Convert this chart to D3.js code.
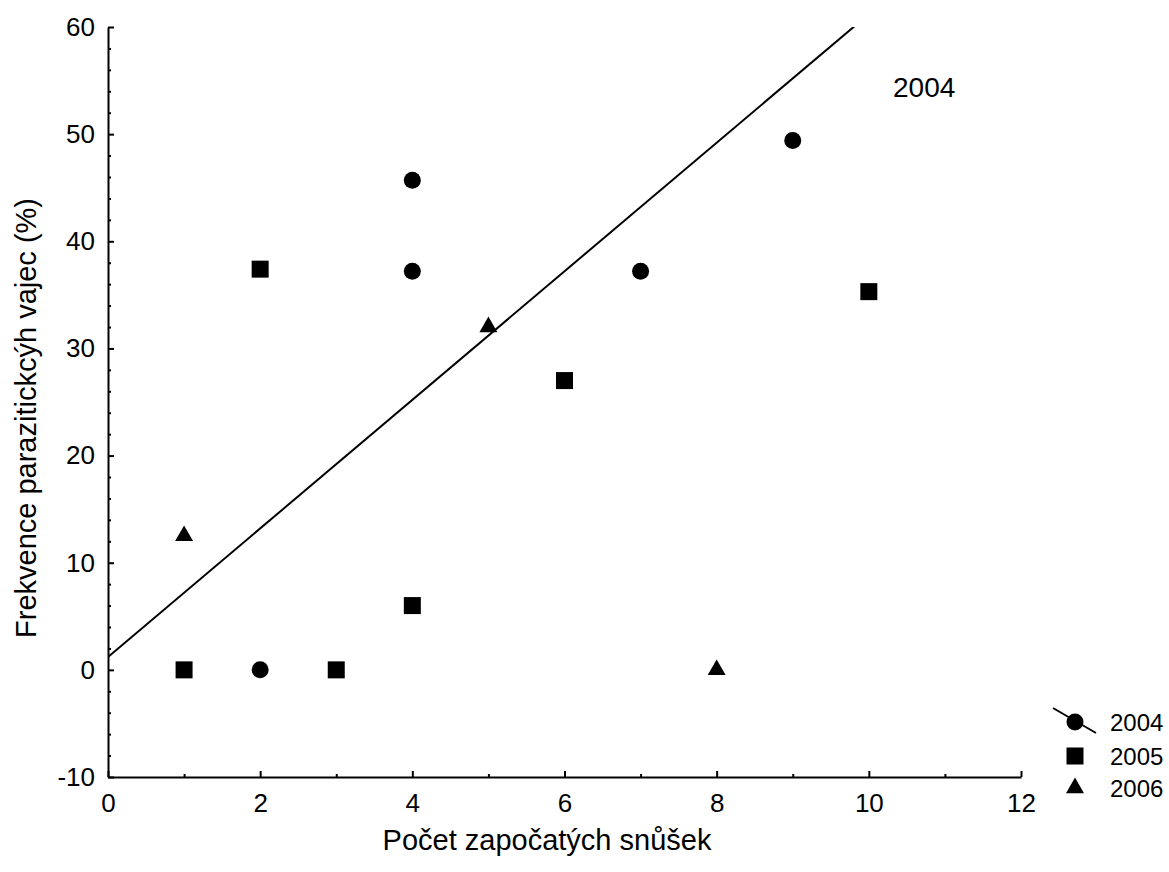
<!DOCTYPE html>
<html>
<head>
<meta charset="utf-8">
<script src="https://cdn.jsdelivr.net/npm/d3@7/dist/d3.min.js"></script>
<style>
  html, body { margin: 0; padding: 0; background: #fff; }
  svg { display: block; font-family: Arial, "Liberation Sans", sans-serif; }
  .tick text { font-size: 26px; font-family: Arial, "Liberation Sans", sans-serif; fill: #000; }
</style>
</head>
<body>
<svg id="chart" width="1169" height="872"></svg>
<script>
// Observations per year: number of started clutches vs. frequency of parasitic eggs (%)
const years = ["2004", "2005", "2006"];
const x2004 = [2, 4, 4, 7, 9];
const y2004 = [0, 45.7, 37.2, 37.2, 49.4];
const x2005 = [1, 2, 3, 4, 6, 10];
const y2005 = [0, 37.4, 0, 6.0, 27.0, 35.3];
const x2006 = [1, 5, 8];
const y2006 = [12.5, 32.0, 0];

// Fitted line (intercept, slope)
const fitIntercept = 1.2;
const fitSlope = 6.0;
const fitLabel = "2004";

const xTicks = [0, 2, 4, 6, 8, 10, 12];
const yTicks = [-10, 0, 10, 20, 30, 40, 50, 60];

const xTitle = "Počet započatých snůšek";
const yTitle = "Frekvence parazitickcýh vajec (%)";

const svg = d3.select("#chart");
const pL = 108, pR = 1021, pT = 27, pB = 777;

const x = d3.scaleLinear().domain([0, 12]).range([pL, pR]);
const y = d3.scaleLinear().domain([-10, 60]).range([pB, pT]);

svg.append("defs").append("clipPath").attr("id", "plotClip")
  .append("rect").attr("x", pL).attr("y", pT).attr("width", pR - pL).attr("height", pB - pT);

// Axes with inward ticks
function styleAxis(g) {
  g.attr("font-size", 26).attr("font-family", "Arial, 'Liberation Sans', sans-serif");
  g.select(".domain").attr("stroke", "#000").attr("stroke-width", 2);
  g.selectAll(".tick line").attr("stroke", "#000").attr("stroke-width", 2);
  g.selectAll(".tick text").style("font-size", "26px").attr("fill", "#000");
}

const xMinor = d3.range(1, 12, 2);
const yMinor = d3.range(-10, 61, 2).filter(v => v % 10 !== 0);

svg.append("g").attr("transform", `translate(0,${pB})`)
  .call(d3.axisBottom(x).tickValues(xMinor).tickSize(-3).tickFormat(""))
  .call(g => { g.select(".domain").remove(); g.selectAll(".tick line").attr("stroke", "#000").attr("stroke-width", 2); });
svg.append("g").attr("transform", `translate(${pL},0)`)
  .call(d3.axisLeft(y).tickValues(yMinor).tickSize(-3).tickFormat(""))
  .call(g => { g.select(".domain").remove(); g.selectAll(".tick line").attr("stroke", "#000").attr("stroke-width", 2); });

const plain = d => String(d);
svg.append("g").attr("transform", `translate(0,${pB})`)
  .call(d3.axisBottom(x).tickValues(xTicks).tickSize(-6).tickSizeOuter(0).tickPadding(17).tickFormat(plain))
  .call(styleAxis);
svg.append("g").attr("transform", `translate(${pL},0)`)
  .call(d3.axisLeft(y).tickValues(yTicks).tickSize(-6).tickSizeOuter(0).tickPadding(13).tickFormat(plain))
  .call(styleAxis);

// Axis titles
svg.append("text").attr("x", 547).attr("y", 850).attr("text-anchor", "middle")
  .style("font-size", "29px").text(xTitle);
svg.append("text").attr("transform", `translate(36,${418}) rotate(-90)`).attr("text-anchor", "middle")
  .style("font-size", "29px").text(yTitle);

// Regression line
const plot = svg.append("g").attr("clip-path", "url(#plotClip)");
plot.append("line")
  .attr("x1", x(0)).attr("y1", y(fitIntercept))
  .attr("x2", x(12)).attr("y2", y(fitIntercept + fitSlope * 12))
  .attr("stroke", "#000").attr("stroke-width", 2);

svg.append("text").attr("x", 893).attr("y", 97).style("font-size", "28px").text(fitLabel);

// Markers
const circleSym = d3.symbol().type(d3.symbolCircle).size(Math.PI * 8.5 * 8.5);
const squareSym = d3.symbol().type(d3.symbolSquare).size(17 * 17);
const triSym = d3.symbol().type(d3.symbolTriangle).size(140);

const series = [
  { xs: x2004, ys: y2004, sym: circleSym },
  { xs: x2005, ys: y2005, sym: squareSym },
  { xs: x2006, ys: y2006, sym: triSym }
];

series.forEach(s => {
  svg.append("g").selectAll("path")
    .data(s.xs.map((v, i) => [v, s.ys[i]]))
    .join("path")
    .attr("d", s.sym)
    .attr("transform", d => `translate(${x(d[0])},${y(d[1])})`)
    .attr("fill", "#000");
});

// Legend
const legend = svg.append("g");
const legY = [722, 756, 788];
legend.append("line").attr("x1", 1053).attr("y1", 708).attr("x2", 1096).attr("y2", 733)
  .attr("stroke", "#000").attr("stroke-width", 2);
series.forEach((s, i) => {
  legend.append("path").attr("d", s.sym).attr("transform", `translate(1075,${legY[i]})`).attr("fill", "#000");
  legend.append("text").attr("x", 1110).attr("y", legY[i] + 8.5).style("font-size", "24px").text(years[i]);
});
</script>
</body>
</html>
